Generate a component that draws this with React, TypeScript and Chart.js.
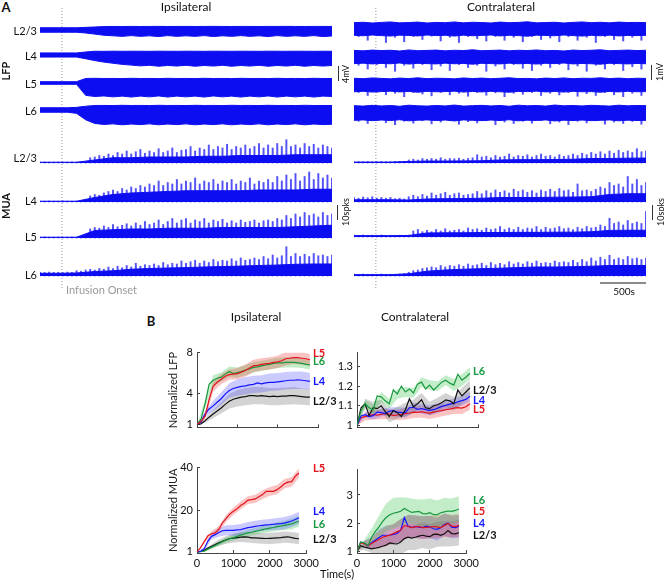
import React, { useEffect, useRef } from "react";
import { Chart, registerables } from "chart.js";
Chart.register(...registerables);

const FONT = "Lato, 'Open Sans', sans-serif";
Chart.defaults.font.family = FONT;

// ================= Panel A data =================
const A_TMAX = 3200; // seconds shown in each raw trace
const ONSET_S = 240; // infusion onset (s)
const A_T100 = Array.from({ length: 33 }, (_, i) => i * 100);
const A_T50 = Array.from({ length: 65 }, (_, i) => i * 50);
const A_T200 = Array.from({ length: 17 }, (_, i) => i * 200);

// LFP envelopes (mV), ipsilateral
const IPSI_LFP_UP_L23 = [0.6,0.6,0.6,0.6,0.6, 0.7,0.8,0.9, 0.95,0.93,0.96,0.94,0.95, 0.97,0.94,0.95,0.96,0.94, 0.95,0.97,0.95,0.94,0.96, 0.95,0.94,0.96,0.95,0.97, 0.95,0.94,0.96,0.95,0.95];
const IPSI_LFP_LO_L23 = [-0.6,-0.6,-0.6,-0.6,-0.6, -0.8,-1.1,-1.4, -1.55,-1.7,-1.5,-1.7,-1.55, -1.75,-1.5,-1.7,-1.55,-1.7, -1.5,-1.75,-1.55,-1.7,-1.5, -1.7,-1.55,-1.75,-1.5,-1.7, -1.55,-1.7,-1.5,-1.75,-1.6];
const IPSI_LFP_UP_L4 = [0.55,0.55,0.55,0.55,0.55, 0.8, 1.0,0.98,1.02,0.99,1.01, 1.0,0.98,1.02,1.0,0.99, 1.01,1.0,0.98,1.02,1.0, 0.99,1.01,1.0,0.98,1.02, 1.0,0.99,1.01,1.0,0.98, 1.0,1.0];
const IPSI_LFP_LO_L4 = [-0.55,-0.55,-0.55,-0.55,-0.55, -1.0,-1.5,-1.9,-2.2,-2.5,-2.7, -2.9,-2.75,-3.0,-2.8,-2.95, -2.75,-3.0,-2.8,-2.95,-2.75, -3.0,-2.8,-2.95,-2.75,-3.0, -2.8,-2.95,-2.75,-3.0,-2.8, -2.95,-2.8];
const IPSI_LFP_UP_L5 = [0.35,0.35,0.35,0.35,0.35, 1.2,1.25,1.2,1.22,1.18, 1.25,1.2,1.22,1.18,1.25, 1.2,1.22,1.18,1.25,1.2, 1.22,1.18,1.25,1.2,1.22, 1.18,1.25,1.2,1.22,1.18, 1.25,1.2,1.2];
const IPSI_LFP_LO_L5 = [-0.35,-0.35,-0.35,-0.35,-0.35, -3.3,-3.6,-3.45,-3.7,-3.5, -3.75,-3.5,-3.7,-3.45,-3.75, -3.5,-3.7,-3.5,-3.75,-3.45, -3.7,-3.5,-3.75,-3.5,-3.7, -3.45,-3.75,-3.5,-3.7,-3.5, -3.75,-3.5,-3.6];
const IPSI_LFP_UP_L6 = [0.6,0.6,0.6,0.6, 0.7, 1.0, 1.2,1.22,1.18,1.25,1.2, 1.22,1.18,1.25,1.2,1.22, 1.18,1.25,1.2,1.22,1.18, 1.25,1.2,1.22,1.18,1.25, 1.2,1.22,1.18,1.25,1.2, 1.2,1.2];
const IPSI_LFP_LO_L6 = [-0.6,-0.6,-0.6,-0.6, -0.9, -2.6, -3.6,-3.85,-3.7,-3.95,-3.75, -3.9,-3.7,-3.95,-3.75,-3.9, -3.7,-3.95,-3.75,-3.9,-3.7, -3.95,-3.75,-3.9,-3.7,-3.95, -3.75,-3.9,-3.7,-3.95,-3.75, -3.9,-3.8];

// LFP contralateral: upper envelope and downward deflection peaks (mV)
const CON_LFP_UP_L23 = [0.42,0.45,0.4,0.44,0.47, 0.41,0.43,0.46,0.4,0.44, 0.42,0.47,0.41,0.45,0.43, 0.4,0.46,0.42,0.44,0.48, 0.41,0.43,0.45,0.4,0.44, 0.47,0.42,0.45,0.41,0.46, 0.43,0.44,0.42];
const CON_LFP_LO_L23 = [-0.5,-0.75,-0.45,-0.9,-0.55, -0.85,-0.5,-0.7,-0.48,-0.8, -0.55,-0.9,-0.5,-0.65,-0.8, -0.5,-0.75,-0.55,-0.85,-0.5, -0.7,-0.6,-0.85,-0.5,-0.75, -0.55,-0.9,-0.5,-0.7,-0.8, -0.55,-0.75,-0.5];
const CON_LFP_UP_L4 = [0.44,0.41,0.46,0.43,0.45, 0.4,0.47,0.42,0.44,0.46, 0.41,0.45,0.43,0.48,0.42, 0.44,0.46,0.41,0.45,0.43, 0.47,0.42,0.44,0.4,0.46, 0.43,0.45,0.48,0.42,0.44, 0.46,0.43,0.45];
const CON_LFP_LO_L4 = [-0.55,-0.8,-0.5,-0.7,-0.95, -0.55,-0.75,-0.5,-0.85,-0.6, -0.9,-0.5,-0.7,-0.55,-0.95, -0.6,-0.8,-0.5,-0.75,-0.9, -0.55,-0.7,-0.5,-0.85,-0.6, -0.95,-0.55,-0.8,-0.5,-0.9, -0.65,-0.8,-0.55];
const CON_LFP_UP_L5 = [0.45,0.42,0.47,0.44,0.41, 0.46,0.43,0.48,0.42,0.45, 0.44,0.41,0.47,0.43,0.46, 0.42,0.45,0.48,0.43,0.44, 0.41,0.46,0.43,0.47,0.42, 0.45,0.44,0.48,0.43,0.46, 0.42,0.45,0.44];
const CON_LFP_LO_L5 = [-0.5,-0.7,-0.48,-0.65,-0.55, -0.78,-0.5,-0.6,-0.72,-0.5, -0.65,-0.55,-0.75,-0.5,-0.68, -0.52,-0.78,-0.55,-0.62,-0.5, -0.7,-0.55,-0.66,-0.5,-0.75, -0.58,-0.7,-0.5,-0.65,-0.78, -0.55,-0.7,-0.6];
const CON_LFP_UP_L6 = [0.49,0.46,0.51,0.47,0.5, 0.45,0.52,0.48,0.46,0.5, 0.47,0.53,0.46,0.49,0.51, 0.47,0.5,0.45,0.52,0.48, 0.5,0.46,0.53,0.48,0.5, 0.47,0.51,0.49,0.46,0.52, 0.48,0.5,0.49];
const CON_LFP_LO_L6 = [-0.55,-0.7,-0.5,-0.65,-0.78, -0.55,-0.68,-0.52,-0.72,-0.6, -0.5,-0.75,-0.58,-0.66,-0.52, -0.78,-0.6,-0.7,-0.55,-0.68, -0.5,-0.72,-0.6,-0.78,-0.55, -0.66,-0.52,-0.74,-0.6,-0.7, -0.56,-0.75,-0.6];

// MUA spike peaks (spks, every 50 s) and body level (spks, every 200 s)
const IPSI_MUA_SPK_L23 = [0.6,0.7,0.6,0.6,0.7,0.6,0.6,0.7,0.6,0.6,0.8, 3.5,4,5,4.5,6,5, 7,6,8,6,7.5,9, 6.5,8,7,9.5,7,8, 10,7,8.5,9,11,8, 10,9,12,9,11,10, 12.5,9,11,10,12,9.5, 11,13,10,12,10,13, 11,15.5,11,12,10,13, 11,12.5,10,12,11,10];
const IPSI_MUA_SPK_L4 = [0.6,0.6,0.7,0.6,0.6,0.7,0.6,0.6,0.7,0.6,0.7, 4,5,4.5,6,7,8, 7,9,8,10,9,11, 10,12,11,14,11,13, 12,15,12,14,13,16, 12,14,13,15,12,14, 13,15,12,14,13,16, 12,14,13,15,13,17, 14,18,15,19,14,17, 20,15,19,16,18,16];
const IPSI_MUA_SPK_L5 = [0.6,0.7,0.6,0.6,0.7,0.6,0.6,0.7,0.6,0.6,0.7, 6,7,6.5,8,7,9, 7.5,8.5,9.5,8,10,8.5, 11,9,10,12,9,11, 13,10,12,13,10,12, 11,13,10,12,11,12.5, 10,11.5,10,12,10.5,11, 12,10,11.5,12,11,13, 12,15,13,16,14,17, 15,16,14,17,15,16];
const IPSI_MUA_SPK_L6 = [2.5,2.3,2.6,2.4,2.5,2.3,2.6,2.4,3.5,3.2,4, 4.5,4,5,4.5,6,5, 6.5,5.5,7,6,8.5,6.5, 7.5,7,8,7,9,7.5, 8.5,8,10,8.5,9.5,10.5, 8.5,10,9,11,9.5,10.5, 10,11.5,10,12,10.5,11, 12,11,13,11.5,14,12, 13.5,19.5,13,15,13,14.5, 13,15,13.5,14,13,14];
const CON_MUA_SPK_L23 = [0.8,0.9,0.8,1,0.8,0.9,1,0.8,0.9,1,0.8,1, 2,2.5,2,3,2.5,3, 2.5,3.5,2.5,3,2.8,3.2, 2.5,3,3.5,5.5,4,4.5, 3.5,5,4,4.5,6,4, 5,4.5,5.5,4,5,6, 4.5,5,4,5.5,4.5,5, 6,5,6.5,5.5,7,6, 7.5,6,8,6.5,8.5,7, 8,7,9.5,7.5,8];
const CON_MUA_SPK_L4 = [3,2.5,3.3,2.8,3.5,2.5,3,2.5,3,2.2,2.5,2, 3.5,4.5,3.5,5,4,6, 4.5,5.5,6.5,4.5,5.5,6, 4.5,5,5.5,7,5.5,7.5, 6,8,6.5,7.5,6,8.5, 7,8,6.5,7.5,6,8, 7,8.5,7,9,7.5,8, 6.5,12,7.5,8,7,8.5, 10,9,13,11,12,10, 17,12,15,11,13];
const CON_MUA_SPK_L5 = [1.2,1,1.3,1.1,1.2,1,1.3,1.1,1.2,1,1.2,1.1,1.3, 4,5,3.5,4.5,3.5,5, 4,5.5,4,4.5,5,4, 6,5,5.5,4.5,6,5, 5.5,7,5,6,5,6.5, 5,6,5.5,7,5,6.5, 5.5,6,7,5.5,6,5, 6.5,5.5,7,6,6.5,8, 7,12.5,9,10,8,11, 9,10,9,17];
const CON_MUA_SPK_L6 = [1.2,1,1.3,1.1,1.2,1,1.3,1.1,1.2,1,1.3,1.5, 2.5,3.5,4,5,5.5,6, 5.5,7,6,7,6.5,7.5, 6.5,8,7,7.5,8.5,7, 9,7.5,8.5,7.5,9.5,8, 9,8,9.5,8.5,10,8.5, 9,8.5,10,9,9.5,9, 10.5,9,11,9.5,12,10, 12.5,11,13.8,11,12,11, 13,11.5,12,11,12];

const IPSI_MUA_BODY_L23 = [0.5,0.5,0.5,2,3.5,3.5,4,4,4,4.5,4.5,5,5,5,5.5,5.5,5.5];
const IPSI_MUA_BODY_L4 = [0.5,0.5,0.5,3,5,6,6.5,7,7.5,7.5,7.5,7.5,8,8,8,8.5,8.5];
const IPSI_MUA_BODY_L5 = [0.5,0.5,0.5,5,5.5,6,6,6.5,6.5,6.5,7,7,7,7,7.5,8,8.5];
const IPSI_MUA_BODY_L6 = [1.8,1.8,2,3,3.5,4.5,5,5.3,5.6,6,6.3,6.6,7,7.3,7.8,8,8];
const CON_MUA_BODY_L23 = [0.6,0.6,0.6,1,1.3,1.3,1.4,1.5,2,2.2,2.2,2.3,2.5,3,3,3.2,3.3];
const CON_MUA_BODY_L4 = [1.5,1.5,1.5,1.3,2,2.2,2.3,2.5,3,3,3,3.2,3.3,3.5,5,5.5,5.5];
const CON_MUA_BODY_L5 = [0.9,0.9,0.9,1,2.7,2.8,2.8,3,3,3.1,3.1,3.2,3.2,3.5,4.4,4.5,4.5];
const CON_MUA_BODY_L6 = [0.9,0.9,0.9,1.5,3.2,4,4.5,4.9,5.2,5.6,6,6,6.2,6.5,7,7,7];

// ================= Panel B data =================
const B_T = Array.from({ length: 29 }, (_, i) => i * 100); // time (s) of mean curves
const B_TB = Array.from({ length: 15 }, (_, i) => i * 200); // time (s) of SEM bands
const B_XTICKS = [0, 1000, 2000, 3000];

const IL_L5 = [1,1.3,1.8,3.4,4.7, 5.1,5.4,5.7,5.85,5.9, 5.95,6.1,6.25,6.5,6.7, 6.75,6.85,6.9,6.95,7.05, 7.1,7.2,7.4,7.45,7.5, 7.5,7.45,7.4,7.3];
const IL_L6 = [1,1.5,3.0,4.9,5.3, 5.5,5.6,5.9,6.15,5.95, 6.05,6.15,6.3,6.4,6.55, 6.6,6.7,6.8,6.85,6.95, 7.0,7.0,7.05,7.05,7.05, 7.0,6.95,6.85,6.8];
const IL_L4 = [1,1.2,2.0,2.5,2.8, 3.15,3.5,3.95,4.3,4.5, 4.6,4.7,4.75,4.85,4.9, 5.05,4.95,5.05,5.1,5.1, 5.15,5.2,5.25,5.3,5.3, 5.35,5.3,5.25,5.2];
const IL_L23 = [1,1.05,1.35,1.7,2.0, 2.3,2.6,2.95,3.25,3.45, 3.55,3.65,3.7,3.8,3.8, 3.75,3.8,3.75,3.7,3.75, 3.7,3.75,3.75,3.8,3.8, 3.75,3.7,3.65,3.65];
const IL_L5_SEM = [0,0.3,0.5,0.5,0.5,0.55,0.6,0.6,0.6,0.6,0.6,0.65,0.6,0.6,0.55];
const IL_L6_SEM = [0,0.4,0.5,0.45,0.5,0.5,0.5,0.5,0.5,0.5,0.5,0.5,0.5,0.45,0.45];
const IL_L4_SEM = [0,0.3,0.5,0.6,0.7,0.8,0.85,0.85,0.85,0.85,0.85,0.85,0.85,0.85,0.8];
const IL_L23_SEM = [0,0.2,0.4,0.55,0.7,0.8,0.85,0.85,0.85,0.85,0.85,0.85,0.85,0.8,0.8];

const CL_L6 = [1.0,1.075,1.11,1.09,1.08, 1.15,1.145,1.125,1.11,1.18, 1.16,1.2,1.17,1.185,1.165, 1.21,1.22,1.185,1.205,1.18, 1.2,1.22,1.23,1.215,1.205, 1.26,1.23,1.245,1.265];
const CL_L23 = [1.0,1.09,1.11,1.05,1.09, 1.085,1.1,1.07,1.045,1.075, 1.065,1.045,1.08,1.135,1.095, 1.11,1.13,1.09,1.085,1.1, 1.105,1.115,1.13,1.125,1.11, 1.18,1.15,1.17,1.19];
const CL_L4 = [1.0,1.048,1.055,1.045,1.05, 1.068,1.065,1.06,1.072,1.075, 1.068,1.065,1.065,1.09,1.092, 1.082,1.085,1.08,1.077,1.08, 1.088,1.097,1.102,1.108,1.112, 1.12,1.126,1.132,1.148];
const CL_L5 = [1.0,1.04,1.045,1.05,1.055, 1.052,1.056,1.06,1.058,1.05, 1.053,1.056,1.06,1.063,1.068, 1.066,1.07,1.065,1.063,1.068, 1.072,1.075,1.08,1.083,1.088, 1.09,1.088,1.095,1.11];
const CL_L6_SEM = [0,0.02,0.025,0.025,0.025,0.025,0.025,0.025,0.025,0.025,0.025,0.025,0.03,0.03,0.03];
const CL_L23_SEM = [0,0.025,0.03,0.03,0.03,0.03,0.035,0.035,0.035,0.035,0.035,0.035,0.035,0.04,0.04];
const CL_L4_SEM = [0,0.015,0.02,0.02,0.02,0.025,0.025,0.025,0.025,0.025,0.025,0.025,0.025,0.025,0.025];
const CL_L5_SEM = [0,0.02,0.025,0.025,0.025,0.025,0.03,0.03,0.03,0.03,0.03,0.03,0.03,0.03,0.03];

const IM_L5 = [1,3,5.8,8.5,9.4, 9.8,11.5,14.5,16.5,18.5, 19.8,21,22.5,23.5,25, 25.2,25.5,26.5,27.5,29, 29,29,29.8,31,32.5, 33.3,33.5,36,37.5];
const IM_L4 = [1,1.2,2.5,6,8.2, 9,10,10.8,11,11, 11,11.2,11.3,11.8,12.2, 12.5,12.8,13.1,13.3,13.5, 13.6,13.8,14,14.1,14.3, 14.8,15.3,16,16.8];
const IM_L6 = [1,1.1,1.4,2.2,3.2, 4,4.9,5.8,6.5,7.1, 7.6,8.2,8.8,9.3,9.8, 10.1,10.5,10.9,11.3,11.7, 12,12.3,12.7,13,13.3, 13.6,14,14.6,15.2];
const IM_L23 = [1,1.2,1.8,2.8,3.6, 4.4,5.2,5.9,6.6,7.2, 7.4,7.6,7.8,8,7.8, 7.5,7.5,7.4,7.3,7.2, 7.3,7.4,7.5,7.6,7.8, 8,7.6,7.3,7.1];
const IM_L5_SEM = [0,0.8,1.2,1.5,1.6,1.7,1.8,1.8,1.9,2,2,2.1,2.2,2.2,2.2];
const IM_L4_SEM = [0,0.8,1.5,2,2.3,2.5,2.6,2.6,2.6,2.6,2.6,2.7,2.8,2.8,2.8];
const IM_L6_SEM = [0,0.3,0.8,1,1.2,1.3,1.4,1.5,1.6,1.7,1.8,2,2.2,2.5,2.6];
const IM_L23_SEM = [0,0.5,1,1.5,1.8,2,2.2,2.4,2.5,2.5,2.6,2.6,2.6,2.6,2.6];

const CM_L6 = [1,1.33,1.3,1.2,1.5, 1.7,1.86,2.05,2.2,2.3, 2.35,2.38,2.42,2.52,2.45, 2.38,2.4,2.42,2.34,2.33, 2.37,2.3,2.3,2.37,2.4, 2.43,2.42,2.45,2.5];
const CM_L5 = [1,1.3,1.27,1.2,1.28, 1.35,1.42,1.5,1.54,1.57, 1.63,1.69,1.75,1.92,1.88, 1.84,1.87,1.88,1.84,1.85, 1.86,1.88,1.87,1.84,1.92, 1.99,1.9,1.88,1.92];
const CM_L4 = [1,1.32,1.28,1.2,1.3, 1.39,1.48,1.57,1.57,1.57, 1.6,1.63,1.75,2.2,1.9, 1.84,1.88,1.86,1.84,1.89, 1.86,1.8,1.78,1.84,1.95, 2.0,1.86,1.84,1.88];
const CM_L23 = [1,1.2,1.15,1.12,1.09, 1.11,1.14,1.18,1.22,1.3, 1.27,1.26,1.33,1.45,1.5, 1.47,1.5,1.54,1.57,1.54, 1.52,1.6,1.61,1.57,1.62, 1.74,1.63,1.62,1.66];
const CM_L6_SEM = [0,0.1,0.3,0.4,0.5,0.55,0.5,0.45,0.45,0.5,0.5,0.5,0.5,0.45,0.45];
const CM_L5_SEM = [0,0.1,0.2,0.3,0.35,0.35,0.4,0.4,0.4,0.4,0.4,0.4,0.4,0.4,0.4];
const CM_L4_SEM = [0,0.1,0.2,0.3,0.35,0.35,0.4,0.4,0.4,0.4,0.4,0.4,0.4,0.4,0.4];
const CM_L23_SEM = [0,0.1,0.15,0.25,0.35,0.4,0.45,0.45,0.45,0.45,0.45,0.45,0.45,0.45,0.45];

// ================= styles =================
const TRACE_BLUE = "#0d0df2";
const SPIKE_BLUE = "rgba(40,40,245,0.8)";
const C_RED = "#e3121b";
const C_GREEN = "#17993f";
const C_BLUE = "#1414ff";
const C_BLACK = "#111111";
const B_RED = "rgba(240,60,60,0.3)";
const B_GREEN = "rgba(40,190,60,0.28)";
const B_BLUE = "rgba(70,70,255,0.28)";
const B_GRAY = "rgba(110,110,110,0.3)";
const AXIS = "#444";

const base = (scales: any) => ({
  animation: false,
  responsive: true,
  maintainAspectRatio: false,
  events: [],
  plugins: { legend: { display: false }, tooltip: { enabled: false } },
  layout: { padding: 0, autoPadding: false },
  elements: { point: { radius: 0 }, line: { tension: 0 } },
  scales,
});

const hiddenScales = (ymin: number, ymax: number) => ({
  x: { type: "linear", display: false, min: 0, max: A_TMAX, offset: false },
  y: { type: "linear", display: false, min: ymin, max: ymax },
});

const lfpTrace = (up: number[], lo: number[], ymin: number, ymax: number) => () => ({
  type: "line",
  data: {
    datasets: [
      { data: A_T100.map((t, i) => ({ x: t, y: up[i] })), borderColor: TRACE_BLUE, borderWidth: 1, fill: false },
      { data: A_T100.map((t, i) => ({ x: t, y: lo[i] })), borderColor: TRACE_BLUE, borderWidth: 1, fill: "-1", backgroundColor: TRACE_BLUE },
    ],
  },
  options: base(hiddenScales(ymin, ymax)),
});

// contralateral LFP: symmetric body from the upper envelope, plus thin downward deflections
const conLfpTrace = (up: number[], lo: number[], ymin: number, ymax: number) => () => ({
  type: "bar",
  data: {
    datasets: [
      { type: "line", data: A_T100.map((t, i) => ({ x: t, y: up[i] })), borderColor: TRACE_BLUE, borderWidth: 1, fill: false, order: 0 },
      { type: "line", data: A_T100.map((t, i) => ({ x: t, y: -up[i] })), borderColor: TRACE_BLUE, borderWidth: 1, fill: "-1", backgroundColor: TRACE_BLUE, order: 0 },
      { type: "bar", data: A_T100.map((t, i) => ({ x: t + 50, y: lo[i] })), backgroundColor: SPIKE_BLUE, barThickness: 1.4, order: 1 },
    ],
  },
  options: base(hiddenScales(ymin, ymax)),
});

const MUA_YMIN = -0.67;
const MUA_YMAX = 21.33;
const muaTrace = (spk: number[], body: number[]) => () => ({
  type: "bar",
  data: {
    datasets: [
      { type: "line", data: A_T200.map((t, i) => ({ x: t, y: body[i] })), borderColor: TRACE_BLUE, borderWidth: 1, fill: "origin", backgroundColor: TRACE_BLUE, order: 0 },
      { type: "bar", data: A_T50.map((t, i) => ({ x: t, y: spk[i] })), backgroundColor: SPIKE_BLUE, barThickness: 1.3, order: 1 },
    ],
  },
  options: base(hiddenScales(MUA_YMIN, MUA_YMAX)),
});

const onsetCfg = () => ({
  type: "line",
  data: { datasets: [{ data: [{ x: ONSET_S, y: 0 }, { x: ONSET_S, y: 1 }], borderColor: "#9a9a9a", borderWidth: 1, borderDash: [1, 2] }] },
  options: base(hiddenScales(0, 1)),
});

type Series = { mean: number[]; sem: number[]; color: string; band: string };
const panelB = (series: Series[], ymin: number, ymax: number, yticks: number[], ylabel: string | null, showX: boolean) => () => {
  const ds: any[] = [];
  series.forEach((s) => {
    ds.push({ data: B_TB.map((t, k) => ({ x: t, y: s.mean[2 * k] + s.sem[k] })), borderColor: "transparent", borderWidth: 0, fill: false, order: 1 });
    ds.push({ data: B_TB.map((t, k) => ({ x: t, y: s.mean[2 * k] - s.sem[k] })), borderColor: "transparent", borderWidth: 0, fill: "-1", backgroundColor: s.band, order: 1 });
  });
  series.forEach((s) => {
    ds.push({ data: B_T.map((t, i) => ({ x: t, y: s.mean[i] })), borderColor: s.color, borderWidth: 1.2, fill: false, order: 0 });
  });
  const tickFont = { size: 11, family: FONT };
  return {
    type: "line",
    data: { datasets: ds },
    options: {
      ...base({
        x: {
          type: "linear", min: 0, max: 3000,
          afterBuildTicks: (s: any) => { s.ticks = B_XTICKS.map((v) => ({ value: v })); },
          afterFit: (s: any) => { s.height = showX ? 22 : 4; },
          border: { display: true, color: AXIS, width: 1 },
          grid: { display: true, drawOnChartArea: false, drawTicks: true, tickLength: -3, color: AXIS },
          ticks: { display: showX, padding: 7, autoSkip: false, maxRotation: 0, color: "#111", font: tickFont, callback: (v: any) => String(v) },
        },
        y: {
          type: "linear", min: ymin, max: ymax,
          afterBuildTicks: (s: any) => { s.ticks = yticks.map((v) => ({ value: v })); },
          afterFit: (s: any) => { s.width = 30; },
          border: { display: true, color: AXIS, width: 1 },
          grid: { display: true, drawOnChartArea: false, drawTicks: true, tickLength: -3, color: AXIS },
          ticks: { padding: 7, autoSkip: false, color: "#111", font: tickFont, callback: (v: any) => String(v) },
          title: ylabel ? { display: true, text: ylabel, padding: 0, color: "#222", font: { size: 11, family: FONT } } : { display: false },
        },
      }),
      layout: { padding: { top: 6, right: 8, left: 0, bottom: 0 }, autoPadding: false },
    },
  };
};

// ================= components =================
function ChartBox({ x, y, w, h, make, z = 1 }: { x: number; y: number; w: number; h: number; make: () => any; z?: number }) {
  const ref = useRef<HTMLCanvasElement>(null);
  useEffect(() => {
    const chart = new Chart(ref.current as HTMLCanvasElement, make());
    return () => chart.destroy();
  }, []);
  return (
    <div style={{ position: "absolute", left: x, top: y, width: w, height: h, zIndex: z }}>
      <canvas ref={ref} />
    </div>
  );
}

function Txt({ x, y, children, size = 11, bold = false, color = "#111", rot = false, align = "center" }: any) {
  const tx = align === "center" ? "-50%" : align === "left" ? "0%" : "-100%";
  return (
    <div
      style={{
        position: "absolute", left: x, top: y, zIndex: 5,
        transform: `translate(${tx},-50%)${rot ? " rotate(-90deg)" : ""}`,
        fontFamily: FONT, fontSize: size, fontWeight: bold ? 700 : 400, color,
        whiteSpace: "nowrap", lineHeight: 1,
      }}
    >
      {children}
    </div>
  );
}

function VBar({ x, y1, y2, color = "#333" }: any) {
  return <div style={{ position: "absolute", left: x, top: y1, width: 1, height: y2 - y1, background: color, zIndex: 5 }} />;
}

const IPSI_X = 40, CON_X = 354, TRACE_W = 292;
const LFP_I_MIN = -4.8, LFP_I_MAX = 2.133;
const LFP_C_MIN = -1.0, LFP_C_MAX = 0.6;

export default function App() {
  const ipsiLfp = [
    { c: 29.5, up: IPSI_LFP_UP_L23, lo: IPSI_LFP_LO_L23, name: "L2/3" },
    { c: 55.3, up: IPSI_LFP_UP_L4, lo: IPSI_LFP_LO_L4, name: "L4" },
    { c: 82.8, up: IPSI_LFP_UP_L5, lo: IPSI_LFP_LO_L5, name: "L5" },
    { c: 109.5, up: IPSI_LFP_UP_L6, lo: IPSI_LFP_LO_L6, name: "L6" },
  ];
  const conLfp = [
    { c: 29, up: CON_LFP_UP_L23, lo: CON_LFP_LO_L23 },
    { c: 57.3, up: CON_LFP_UP_L4, lo: CON_LFP_LO_L4 },
    { c: 85, up: CON_LFP_UP_L5, lo: CON_LFP_LO_L5 },
    { c: 113.3, up: CON_LFP_UP_L6, lo: CON_LFP_LO_L6 },
  ];
  const ipsiMua = [
    { b: 162.7, s: IPSI_MUA_SPK_L23, body: IPSI_MUA_BODY_L23, name: "L2/3", ly: 157 },
    { b: 201.7, s: IPSI_MUA_SPK_L4, body: IPSI_MUA_BODY_L4, name: "L4", ly: 200 },
    { b: 237.7, s: IPSI_MUA_SPK_L5, body: IPSI_MUA_BODY_L5, name: "L5", ly: 236 },
    { b: 276, s: IPSI_MUA_SPK_L6, body: IPSI_MUA_BODY_L6, name: "L6", ly: 274 },
  ];
  const conMua = [
    { b: 162.7, s: CON_MUA_SPK_L23, body: CON_MUA_BODY_L23 },
    { b: 201.7, s: CON_MUA_SPK_L4, body: CON_MUA_BODY_L4 },
    { b: 237.3, s: CON_MUA_SPK_L5, body: CON_MUA_BODY_L5 },
    { b: 275.7, s: CON_MUA_SPK_L6, body: CON_MUA_BODY_L6 },
  ];

  return (
    <div style={{ position: "fixed", left: 0, top: 0, width: 664, height: 585, background: "#fff", overflow: "hidden" }}>
      {/* Panel A */}
      <Txt x={6} y={7} size={13} bold>A</Txt>
      <Txt x={186} y={7} size={12}>Ipsilateral</Txt>
      <Txt x={501} y={7} size={12}>Contralateral</Txt>
      <Txt x={5} y={71} size={11} bold rot>LFP</Txt>
      <Txt x={5} y={206} size={11} bold rot>MUA</Txt>

      <ChartBox x={IPSI_X} y={8} w={TRACE_W} h={280} make={onsetCfg} z={0} />
      <ChartBox x={CON_X} y={8} w={TRACE_W} h={280} make={onsetCfg} z={0} />

      {ipsiLfp.map((t, i) => (
        <React.Fragment key={"il" + i}>
          <ChartBox x={IPSI_X} y={t.c - 8} w={TRACE_W} h={26} make={lfpTrace(t.up, t.lo, LFP_I_MIN, LFP_I_MAX)} />
          <Txt x={37} y={t.c} align="right">{t.name}</Txt>
        </React.Fragment>
      ))}
      {conLfp.map((t, i) => (
        <ChartBox key={"cl" + i} x={CON_X} y={t.c - 9} w={TRACE_W} h={24} make={conLfpTrace(t.up, t.lo, LFP_C_MIN, LFP_C_MAX)} />
      ))}
      {ipsiMua.map((t, i) => (
        <React.Fragment key={"im" + i}>
          <ChartBox x={IPSI_X} y={t.b - 32} w={TRACE_W} h={33} make={muaTrace(t.s, t.body)} />
          <Txt x={37} y={t.ly} align="right">{t.name}</Txt>
        </React.Fragment>
      ))}
      {conMua.map((t, i) => (
        <ChartBox key={"cm" + i} x={CON_X} y={t.b - 32} w={TRACE_W} h={33} make={muaTrace(t.s, t.body)} />
      ))}

      <Txt x={66} y={289} size={11} color="#9a9a9a" align="left">Infusion Onset</Txt>

      {/* scale bars */}
      <VBar x={338} y1={66} y2={81} />
      <Txt x={345} y={74} size={9} rot>4mV</Txt>
      <VBar x={651} y1={65} y2={80} />
      <Txt x={659} y={72} size={9} rot>1mV</Txt>
      <VBar x={337} y1={205} y2={220} />
      <Txt x={345} y={212} size={9} rot>10spks</Txt>
      <VBar x={652} y1={205} y2={220} />
      <Txt x={660} y={212} size={9} rot>10spks</Txt>
      <div style={{ position: "absolute", left: 600, top: 282, width: 46, height: 2, background: "#8a8a8a" }} />
      <Txt x={624} y={291} size={10}>500s</Txt>

      {/* Panel B */}
      <Txt x={151} y={321} size={13} bold>B</Txt>
      <Txt x={256} y={317} size={12}>Ipsilateral</Txt>
      <Txt x={415} y={317} size={12}>Contralateral</Txt>

      <ChartBox x={167} y={339} w={159} h={102} make={panelB([
        { mean: IL_L5, sem: IL_L5_SEM, color: C_RED, band: B_RED },
        { mean: IL_L6, sem: IL_L6_SEM, color: C_GREEN, band: B_GREEN },
        { mean: IL_L4, sem: IL_L4_SEM, color: C_BLUE, band: B_BLUE },
        { mean: IL_L23, sem: IL_L23_SEM, color: C_BLACK, band: B_GRAY },
      ], 0.7, 8, [1, 4, 8], "Normalized LFP", false)} />
      <ChartBox x={327} y={339} w={159} h={102} make={panelB([
        { mean: CL_L6, sem: CL_L6_SEM, color: C_GREEN, band: B_GREEN },
        { mean: CL_L23, sem: CL_L23_SEM, color: C_BLACK, band: B_GRAY },
        { mean: CL_L4, sem: CL_L4_SEM, color: C_BLUE, band: B_BLUE },
        { mean: CL_L5, sem: CL_L5_SEM, color: C_RED, band: B_RED },
      ], 0.99, 1.37, [1, 1.1, 1.2, 1.3], null, false)} />
      <ChartBox x={167} y={454} w={159} h={121} make={panelB([
        { mean: IM_L5, sem: IM_L5_SEM, color: C_RED, band: B_RED },
        { mean: IM_L4, sem: IM_L4_SEM, color: C_BLUE, band: B_BLUE },
        { mean: IM_L6, sem: IM_L6_SEM, color: C_GREEN, band: B_GREEN },
        { mean: IM_L23, sem: IM_L23_SEM, color: C_BLACK, band: B_GRAY },
      ], 0.5, 40, [1, 20, 40], "Normalized MUA", true)} />
      <ChartBox x={327} y={456} w={159} h={119} make={panelB([
        { mean: CM_L6, sem: CM_L6_SEM, color: C_GREEN, band: B_GREEN },
        { mean: CM_L5, sem: CM_L5_SEM, color: C_RED, band: B_RED },
        { mean: CM_L4, sem: CM_L4_SEM, color: C_BLUE, band: B_BLUE },
        { mean: CM_L23, sem: CM_L23_SEM, color: C_BLACK, band: B_GRAY },
      ], 0.94, 3.9, [1, 2, 3], null, true)} />

      {/* line labels */}
      <Txt x={313} y={351.5} bold color={C_RED} align="left">L5</Txt>
      <Txt x={313} y={360} bold color={C_GREEN} align="left">L6</Txt>
      <Txt x={313} y={380} bold color={C_BLUE} align="left">L4</Txt>
      <Txt x={313} y={399.5} bold color={C_BLACK} align="left">L2/3</Txt>

      <Txt x={473} y={370} bold color={C_GREEN} align="left">L6</Txt>
      <Txt x={473} y={388.5} bold color={C_BLACK} align="left">L2/3</Txt>
      <Txt x={473} y={398.5} bold color={C_BLUE} align="left">L4</Txt>
      <Txt x={473} y={408} bold color={C_RED} align="left">L5</Txt>

      <Txt x={313} y={466.5} bold color={C_RED} align="left">L5</Txt>
      <Txt x={313} y={510} bold color={C_BLUE} align="left">L4</Txt>
      <Txt x={313} y={523} bold color={C_GREEN} align="left">L6</Txt>
      <Txt x={313} y={538} bold color={C_BLACK} align="left">L2/3</Txt>

      <Txt x={473} y={498.5} bold color={C_GREEN} align="left">L6</Txt>
      <Txt x={473} y={510} bold color={C_RED} align="left">L5</Txt>
      <Txt x={473} y={522} bold color={C_BLUE} align="left">L4</Txt>
      <Txt x={473} y={533.5} bold color={C_BLACK} align="left">L2/3</Txt>

      <Txt x={337} y={573} size={11}>Time(s)</Txt>
    </div>
  );
}
